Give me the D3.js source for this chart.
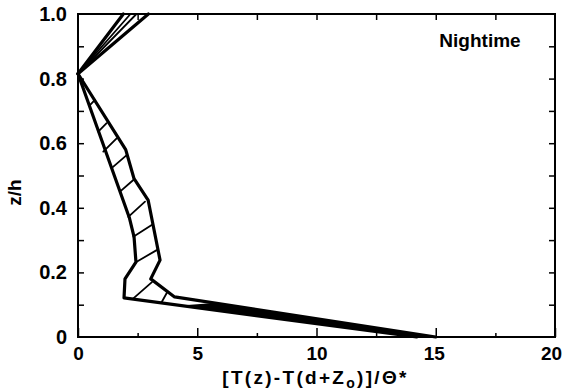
<!DOCTYPE html>
<html>
<head>
<meta charset="utf-8">
<script src="https://cdn.jsdelivr.net/npm/d3@7"></script>
<style>
  html, body { margin: 0; padding: 0; background: #fff; }
  svg text { font-family: "Liberation Sans", Arial, Helvetica, sans-serif; font-weight: bold; fill: #000; }
</style>
</head>
<body>
<svg id="chart" width="565" height="391"></svg>
<script>
// ---- data ----
const xMajorTicks = [0, 5, 10, 15, 20];
const xMinorTicks = [2.5, 7.5, 12.5, 17.5];
const yLabelTicks = [0, 0.2, 0.4, 0.6, 0.8, 1.0];
const yAllTicks = [0.1, 0.2, 0.3, 0.4, 0.5, 0.6, 0.7, 0.8, 0.9];
const topTicks = [2.5, 5, 7.5, 10, 12.5, 15, 17.5];

// left boundary of hatched band [x, z/h]
const leftCurve = [[0, 0.815], [2.15, 0.37], [2.35, 0.31], [2.43, 0.232], [1.97, 0.18], [1.93, 0.121], [14.2, 0]];
// right boundary of hatched band
const rightCurve = [[0, 0.815], [2.0, 0.58], [2.35, 0.49], [2.94, 0.424], [3.44, 0.238], [3.05, 0.18], [4.05, 0.124], [15.0, 0]];
// solid (merged) part of the band near the surface
const solidBand = [[4.3, 0.0976], [14.2, 0], [15.0, 0], [5.7, 0.1053]];
// upper wedge lines from the convergence point to the top
const topStart = [0, 0.815];
const topEndsX = [1.9, 2.2, 2.45, 2.95];
const topEndsWidth = ["thick", "thin", "thin", "thick"];
// hatch segments [x1, z1, x2, z2]
const hatches = [
  [0.50, 0.718, 0.71, 0.734],
  [0.85, 0.636, 1.20, 0.662],
  [1.06, 0.574, 1.62, 0.615],
  [1.41, 0.523, 2.04, 0.563],
  [1.76, 0.450, 2.32, 0.486],
  [2.11, 0.372, 2.81, 0.419],
  [2.32, 0.310, 3.09, 0.347],
  [2.46, 0.233, 3.30, 0.269],
  [2.31, 0.119, 3.10, 0.170],
  [3.50, 0.107, 3.75, 0.140]
];

// ---- layout ----
const svg = d3.select("#chart");
const L = 78, R = 555, T = 14, B = 337;
const x = d3.scaleLinear().domain([0, 20]).range([L, R]);
const y = d3.scaleLinear().domain([0, 1]).range([B, T]);
const FONT = '"Liberation Sans", Arial, sans-serif';

svg.append("rect").attr("width", 565).attr("height", 391).attr("fill", "#fff");

function styleAxis(g) {
  g.select(".domain").remove();
  g.selectAll(".tick line").attr("stroke", "#000").attr("stroke-width", 1.5);
}

// bottom major ticks with labels
svg.append("g").attr("transform", `translate(0,${B})`)
  .call(d3.axisBottom(x).tickValues(xMajorTicks).tickSizeInner(-9).tickSizeOuter(0).tickPadding(10).tickFormat(d3.format("d")))
  .call(styleAxis)
  .call(g => g.selectAll("text").attr("font-size", 19).style("font-family", FONT).style("font-weight", "bold")
    .attr("dx", d => d === 20 ? -4 : (d === 15 ? -2 : 0)));
// bottom minor
svg.append("g").attr("transform", `translate(0,${B})`)
  .call(d3.axisBottom(x).tickValues(xMinorTicks).tickSizeInner(-4).tickSizeOuter(0).tickFormat(""))
  .call(styleAxis);
// top ticks
svg.append("g").attr("transform", `translate(0,${T})`)
  .call(d3.axisTop(x).tickValues(topTicks).tickSizeInner(-6).tickSizeOuter(0).tickFormat(""))
  .call(styleAxis);
// left ticks
svg.append("g").attr("transform", `translate(${L},0)`)
  .call(d3.axisLeft(y).tickValues(yAllTicks).tickSizeInner(-6).tickSizeOuter(0).tickFormat(""))
  .call(styleAxis);
// left labels
svg.append("g").attr("transform", `translate(${L},0)`)
  .call(d3.axisLeft(y).tickValues(yLabelTicks).tickSizeInner(0).tickSizeOuter(0).tickPadding(11).tickFormat(d => d === 0 ? "0" : d3.format(".1f")(d)))
  .call(styleAxis)
  .call(g => g.selectAll("text").attr("font-size", 20).style("font-family", FONT).style("font-weight", "bold"));
// right ticks
svg.append("g").attr("transform", `translate(${R},0)`)
  .call(d3.axisRight(y).tickValues(yAllTicks).tickSizeInner(-6).tickSizeOuter(0).tickFormat(""))
  .call(styleAxis);

// frame
svg.append("rect").attr("x", L).attr("y", T).attr("width", R - L).attr("height", B - T)
  .attr("fill", "none").attr("stroke", "#000").attr("stroke-width", 2);

const line = d3.line().x(d => x(d[0])).y(d => y(d[1]));

// solid merged band
svg.append("path").datum(solidBand).attr("d", line.curve ? d3.line().x(d => x(d[0])).y(d => y(d[1]))(solidBand) + "Z" : "")
  .attr("fill", "#000").attr("stroke", "none");

// hatches
svg.append("g").selectAll("line").data(hatches).join("line")
  .attr("x1", d => x(d[0])).attr("y1", d => y(d[1]))
  .attr("x2", d => x(d[2])).attr("y2", d => y(d[3]))
  .attr("stroke", "#000").attr("stroke-width", 1.8).attr("stroke-linecap", "round");

// boundaries
[leftCurve, rightCurve].forEach(c => {
  svg.append("path").datum(c).attr("d", line)
    .attr("fill", "none").attr("stroke", "#000").attr("stroke-width", 3.2)
    .attr("stroke-linejoin", "round").attr("stroke-linecap", "round");
});

// top wedge lines
topEndsX.forEach((ex, i) => {
  svg.append("path").datum([topStart, [ex, 1.0]]).attr("d", line)
    .attr("fill", "none").attr("stroke", "#000")
    .attr("stroke-width", topEndsWidth[i] === "thick" ? 3.2 : 1.8)
    .attr("stroke-linecap", "round");
});

// annotation
svg.append("text").attr("x", 480).attr("y", y(0.9) + 1).attr("text-anchor", "middle")
  .attr("font-size", 19).text("Nightime");

// axis titles
const xt = svg.append("text").attr("x", (L + R) / 2 - 1).attr("y", 384).attr("text-anchor", "middle")
  .attr("font-size", 19).attr("letter-spacing", 2.3);
xt.append("tspan").text("[T(z)-T(d+Z");
xt.append("tspan").attr("font-size", 14).attr("dy", 4).text("o");
xt.append("tspan").attr("dy", -4).text(")]/\u0398*");

svg.append("text").attr("transform", `translate(21,${(T + B) / 2 + 17}) rotate(-90)`)
  .attr("text-anchor", "middle").attr("font-size", 19).text("z/h");
</script>
</body>
</html>
